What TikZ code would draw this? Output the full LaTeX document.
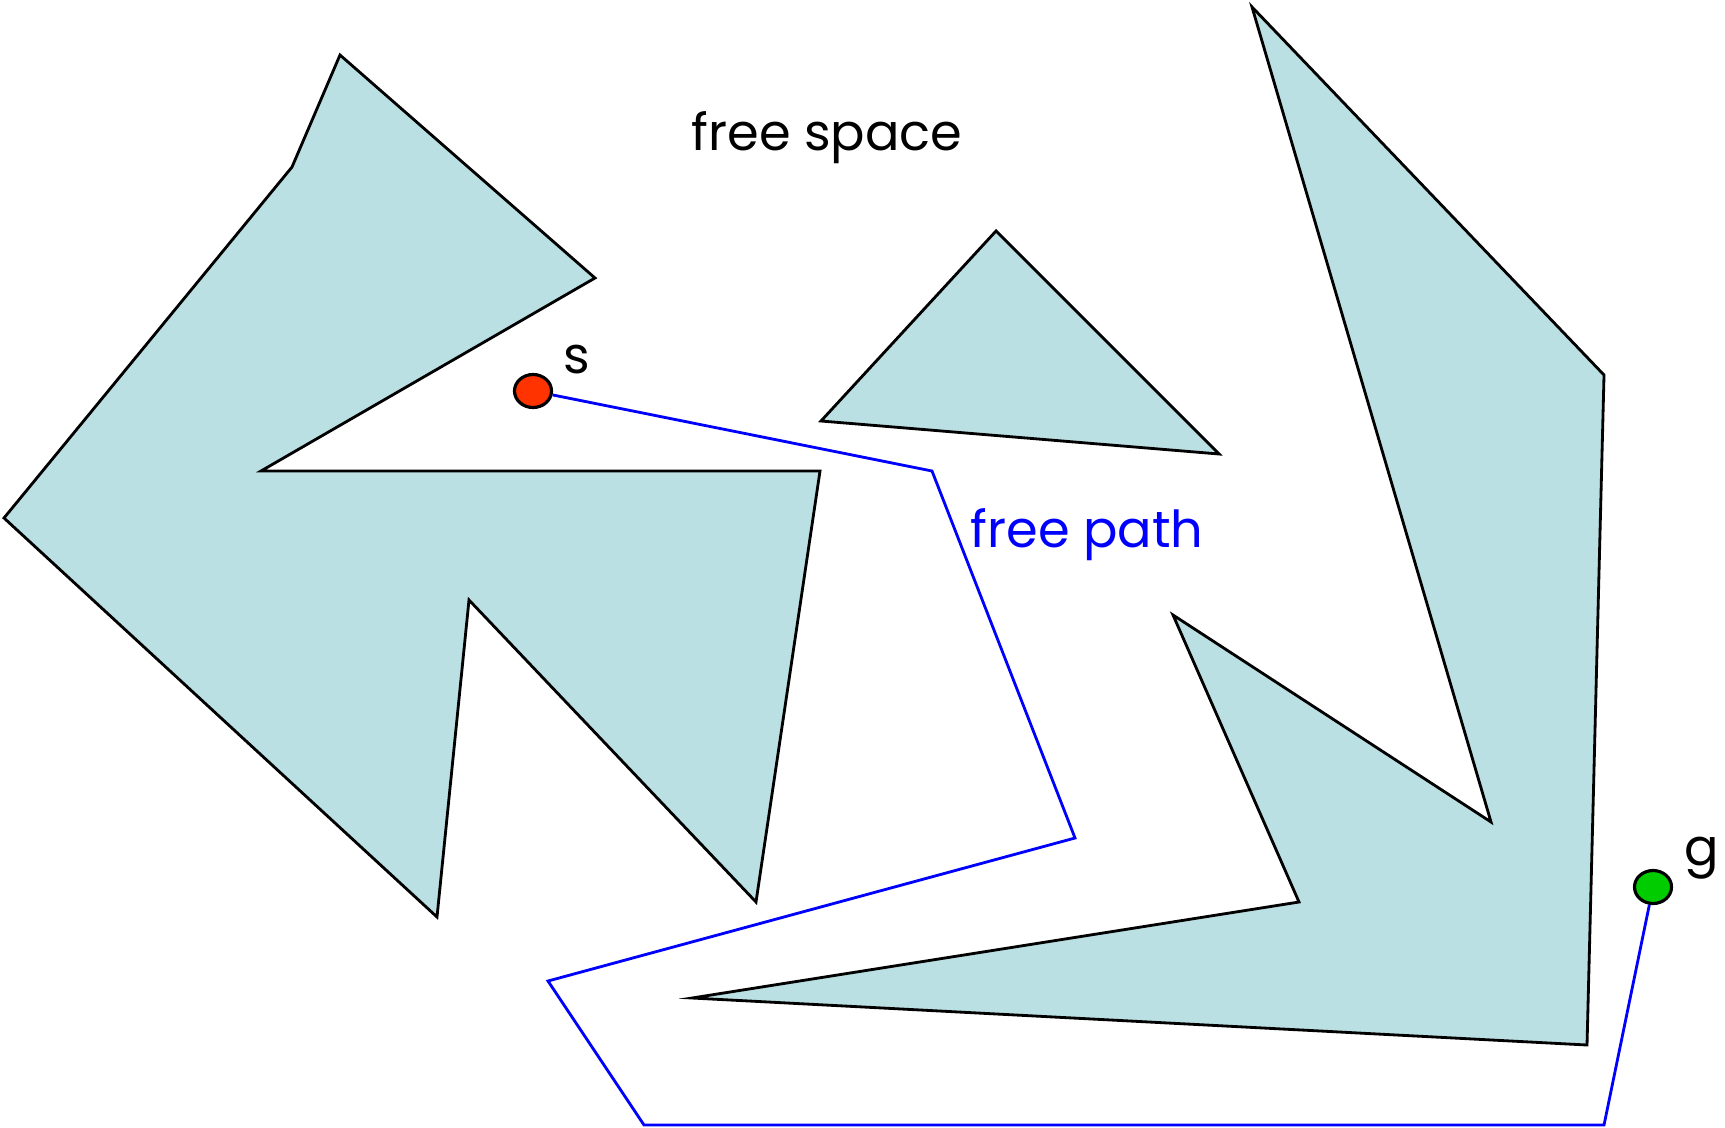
\documentclass[tikz,border=0pt]{standalone}
\usepackage{fontspec}
\setmainfont{Poppins}
\usetikzlibrary{shapes.geometric}
\definecolor{obst}{RGB}{186,224,227}
\definecolor{sred}{RGB}{255,51,0}
\definecolor{ggreen}{RGB}{0,204,0}
\begin{document}
\begin{tikzpicture}[x=0.01cm,y=-0.01cm,
  obstacle/.style={draw=black,fill=obst,line width=0.8pt,line join=miter},
  pathline/.style={draw=blue,line width=0.8pt},
  endpt/.style={ellipse,draw=black,line width=0.9pt,minimum width=0.37cm,minimum height=0.33cm,inner sep=0pt},
  lbl/.style={font=\fontsize{14.5}{17}\selectfont,inner sep=0pt}]
\useasboundingbox (0,0) rectangle (1725,1127);
% left obstacle
\draw[obstacle] (340,55) -- (595,278) -- (261,471) -- (820,471) -- (756,902) -- (469,600) -- (437,917) -- (4,518) -- (292,167) -- cycle;
% triangle
\draw[obstacle] (996,231) -- (1219,454) -- (821,421) -- cycle;
% right obstacle
\draw[obstacle] (1252,7) -- (1604,375) -- (1587,1045) -- (692,998) -- (1299,902) -- (1173,615) -- (1491,822) -- cycle;
% endpoints
\node[endpt,fill=sred] (s) at (533,391) {};
\node[endpt,fill=ggreen] (g) at (1653,887) {};
% path
\coordinate (p1) at (932,471);
\coordinate (p2) at (1075,838);
\coordinate (p3) at (548,981);
\coordinate (p4) at (644,1125);
\coordinate (p5) at (1604,1125);
\draw[pathline] (s) -- (p1) -- (p2) -- (p3) -- (p4) -- (p5) -- (g);
% labels
\node[lbl] (sl) at (577,360) {s};
\node[lbl] (gl) at (1702,858) {g};
\node[lbl,anchor=base] (fs) at (827,150) {free space};
\node[lbl,anchor=base,text=blue] (fp) at (1087,547) {free path};
\end{tikzpicture}
\end{document}
